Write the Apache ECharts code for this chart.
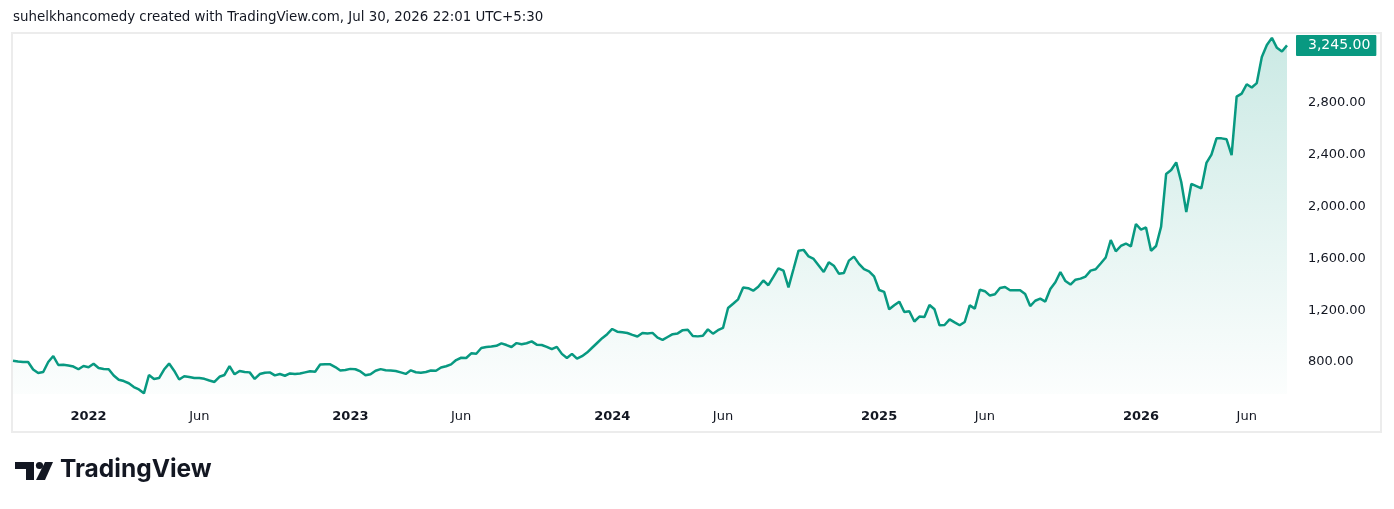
<!DOCTYPE html>
<html>
<head>
<meta charset="utf-8">
<script src="https://cdn.jsdelivr.net/npm/echarts@6/dist/echarts.min.js"></script>
<style>
html,body{margin:0;padding:0;background:#fff;}
#c{width:1394px;height:509px;}
</style>
</head>
<body>
<div id="c"></div>
<script>
// Weekly closes, first week starting 2021-09-20
const startDate = '2021-09-20';
const values = [
810,804,800,800,742,715,723,800,846,777,
779,773,765,744,769,760,787,754,746,744,
696,663,653,636,607,588,558,700,669,676,
742,788,733,665,690,684,676,677,670,657,
646,686,700,769,705,731,723,720,669,707,
717,720,697,707,694,712,707,711,720,729,
725,781,783,782,761,734,738,747,744,727,
698,706,733,745,737,734,731,720,708,736,
721,717,723,735,733,758,767,782,815,833,
831,867,864,908,916,919,925,944,931,916,
946,937,945,959,934,931,917,899,917,863,
831,863,826,845,873,910,947,984,1015,1055,
1034,1029,1024,1010,997,1024,1020,1025,988,971,
993,1015,1021,1046,1049,1001,998,1002,1052,1019,
1046,1063,1217,1250,1284,1376,1370,1351,1381,1430,
1393,1457,1524,1505,1377,1518,1660,1666,1615,1596,
1546,1495,1570,1544,1482,1487,1583,1614,1558,1517,
1500,1461,1356,1342,1207,1238,1266,1186,1192,1113,
1151,1147,1240,1207,1083,1086,1129,1106,1084,1109,
1237,1212,1358,1347,1313,1323,1371,1379,1354,1354,
1354,1325,1232,1273,1289,1267,1364,1416,1495,1425,
1398,1436,1444,1460,1506,1516,1561,1607,1742,1655,
1696,1715,1693,1866,1823,1839,1659,1696,1845,2252,
2283,2342,2190,1958,2175,2158,2141,2337,2402,2527,
2527,2520,2398,2849,2873,2945,2920,2954,3155,3248,
3303,3226,3198,3245
];
const yTicks = [800, 1200, 1600, 2000, 2400, 2800];
const tickMonths = {0: 'year', 5: 'Jun'};
const headerText = 'suhelkhancomedy created with TradingView.com, Jul 30, 2026 22:01 UTC+5:30';
const lastValue = values[values.length - 1];

// build weekly date categories
const categories = [];
(function(){
  const p = startDate.split('-').map(Number);
  const t0 = Date.UTC(p[0], p[1]-1, p[2]);
  for (let i = 0; i < values.length; i++) {
    const d = new Date(t0 + i * 7 * 86400000);
    categories.push(d.toISOString().slice(0,10));
  }
})();

function isTick(dateStr){
  const m = +dateStr.slice(5,7) - 1;
  const day = +dateStr.slice(8,10);
  return (m in tickMonths) && day <= 7;
}
function fmtNum(v){
  return v.toLocaleString('en-US', {minimumFractionDigits:2, maximumFractionDigits:2});
}

const FONT = '"DejaVu Sans", Verdana, sans-serif';
const chart = echarts.init(document.getElementById('c'), null, {renderer:'canvas'});
chart.setOption({
  animation: false,
  backgroundColor: '#ffffff',
  grid: {left: 13, right: 107, top: 34, bottom: 115, containLabel: false},
  xAxis: {
    type: 'category',
    data: categories,
    boundaryGap: false,
    axisLine: {show: false},
    axisTick: {show: false},
    splitLine: {show: false},
    axisLabel: {
      interval: function(idx, val){ return isTick(val); },
      margin: 16,
      color: '#131722',
      fontFamily: FONT,
      fontSize: 13,
      formatter: function(val){
        const m = +val.slice(5,7) - 1;
        if (tickMonths[m] === 'year') return '{b|' + val.slice(0,4) + '}';
        return tickMonths[m];
      },
      rich: {b: {fontWeight: 'bold', fontSize: 13, fontFamily: FONT, color: '#131722'}}
    }
  },
  yAxis: {
    type: 'value',
    position: 'right',
    min: 553,
    max: 3333,
    axisLine: {show: false},
    axisTick: {show: false},
    splitLine: {show: false},
    axisLabel: {
      customValues: yTicks,
      align: 'left',
      margin: 21,
      color: '#131722',
      fontFamily: FONT,
      fontSize: 13,
      formatter: function(v){ return fmtNum(v); }
    }
  },
  series: [{
    type: 'line',
    data: values,
    symbol: 'none',
    smooth: false,
    lineStyle: {color: '#089981', width: 2.5},
    itemStyle: {color: '#089981'},
    areaStyle: {
      color: new echarts.graphic.LinearGradient(0, 0, 0, 1, [
        {offset: 0, color: 'rgba(8,153,129,0.30)'},
        {offset: 1, color: 'rgba(8,153,129,0.02)'}
      ])
    },
    markLine: {
      silent: true,
      symbol: ['none','none'],
      lineStyle: {color: 'rgba(0,0,0,0)', width: 1, type: 'solid'},
      data: [{yAxis: lastValue}],
      label: {
        show: true,
        position: 'end',
        distance: 9,
        formatter: function(){ return fmtNum(lastValue); },
        backgroundColor: '#089981',
        color: '#ffffff',
        fontFamily: FONT,
        fontSize: 14,
        padding: [4, 6, 3, 12],
        borderRadius: 1
      }
    }
  }],
  graphic: [
    {type: 'text', left: 13, top: 11, style: {text: headerText, fill: '#131722', font: '13.4px ' + FONT}},
    {type: 'rect', shape: {x: 12, y: 33, width: 1369, height: 399}, style: {fill: 'none', stroke: '#ececec', lineWidth: 2}, z: -1},
    {type: 'polygon', shape: {points: [[15,462],[34,462],[34,480],[26,480],[26,469],[15,469]]}, style: {fill: '#131722'}},
    {type: 'circle', shape: {cx: 39.5, cy: 465.5, r: 3.6}, style: {fill: '#131722'}},
    {type: 'polygon', shape: {points: [[45,462],[53,462],[45,480],[36,480]]}, style: {fill: '#131722'}},
    {type: 'text', left: 60, top: 457, style: {text: 'TradingView', fill: '#131722', font: 'bold 24.5px Inter, "Noto Sans", sans-serif'}}
  ]
});
</script>
</body>
</html>
